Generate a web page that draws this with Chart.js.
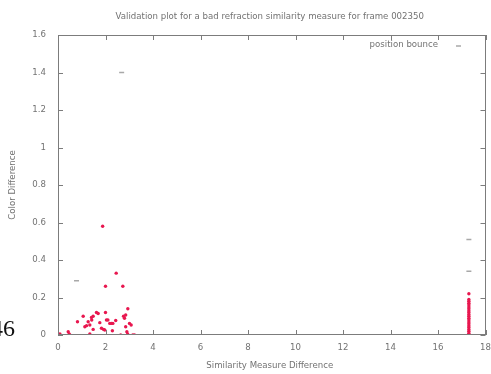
<!DOCTYPE html>
<html>
<head>
<meta charset="utf-8">
<script src="https://cdn.jsdelivr.net/npm/chart.js@4/dist/chart.umd.min.js"></script>
<style>
  html, body { margin: 0; padding: 0; background: #fff; overflow: hidden; }
  #wrap { position: relative; width: 491px; height: 374px; }
  #c { display: block; width: 491px; height: 374px; }
  #pg { position: absolute; left: -9px; top: 316px; font-family: "Liberation Serif", "DejaVu Serif", serif; font-size: 24px; color: #111; line-height: 1; }
</style>
</head>
<body>
<div id="wrap">
  <canvas id="c" width="491" height="374"></canvas>
  <div id="pg">46</div>
</div>
<script>
// Chart texts
const chartTitle = "Validation plot for a bad refraction similarity measure for frame 002350";
const xAxisTitle = "Similarity Measure Difference";
const yAxisTitle = "Color Difference";
const legendLabel = "position bounce";

// Axis ranges and tick steps
const xRange = [0, 18];
const xStep = 2;
const yRange = [0, 1.6];
const yStep = 0.2;

// Red samples (similarity difference, colour difference)
const redX = [0.08, 0.43, 0.47, 0.50, 0.82, 1.06, 1.13, 1.20, 1.27, 1.34, 1.34, 1.41, 1.48, 1.48, 1.42,
              1.62, 1.69, 1.76, 1.83, 1.88, 1.92, 1.97, 2.00, 2.00, 2.04, 2.10, 2.18, 2.25, 2.29, 2.31,
              2.43, 2.45, 2.64, 2.73, 2.76, 2.80, 2.85, 2.85, 2.90, 2.93, 2.94, 3.01, 3.08, 3.15, 3.22,
              17.3, 17.3, 17.3, 17.3, 17.3, 17.3, 17.3, 17.3, 17.3, 17.3, 17.3, 17.3, 17.3, 17.3, 17.3,
              17.3, 17.3, 17.3, 17.3, 17.3, 17.3];
const redY = [0.005, 0.018, 0.005, 0.0, 0.071, 0.10, 0.044, 0.05, 0.071, 0.053, 0.005, 0.094, 0.10, 0.03, 0.08,
              0.12, 0.115, 0.066, 0.036, 0.58, 0.03, 0.027, 0.12, 0.26, 0.08, 0.08, 0.062, 0.062, 0.023, 0.062,
              0.077, 0.33, 0.0, 0.26, 0.10, 0.089, 0.107, 0.044, 0.018, 0.005, 0.14, 0.062, 0.053, 0.0, 0.0,
              0.22, 0.19, 0.18, 0.17, 0.16, 0.15, 0.14, 0.13, 0.12, 0.11, 0.10, 0.09, 0.08, 0.07, 0.06,
              0.05, 0.04, 0.03, 0.02, 0.01, 0.0];

// Grey "position bounce" samples
const greyX = [2.68, 0.78, 17.3, 17.3];
const greyY = [1.40, 0.29, 0.51, 0.34];

const redPoints = redX.map((x, i) => ({ x: x, y: redY[i] }));
const greyPoints = greyX.map((x, i) => ({ x: x, y: greyY[i] }));

const textColor = "#727272";
const frameColor = "#7c7c7c";
const fontFamily = "'DejaVu Sans', Verdana, sans-serif";
const fontSize = 8.6;

// Frame, inward ticks on all four sides, titles and legend
const gnuFrame = {
  id: "gnuFrame",
  afterDatasetsDraw(chart) {
    const ctx = chart.ctx;
    const a = chart.chartArea;
    const xs = chart.scales.x, ys = chart.scales.y;
    const tick = 5;
    ctx.save();
    ctx.strokeStyle = frameColor;
    ctx.lineWidth = 1;
    ctx.strokeRect(Math.round(a.left) + 0.5, Math.round(a.top) + 0.5,
                   Math.round(a.right - a.left) - 1, Math.round(a.bottom - a.top) - 1);
    ctx.beginPath();
    for (let v = xRange[0]; v <= xRange[1] + 1e-9; v += xStep) {
      const px = Math.round(xs.getPixelForValue(v)) + 0.5;
      ctx.moveTo(px, a.bottom); ctx.lineTo(px, a.bottom - tick);
      ctx.moveTo(px, a.top); ctx.lineTo(px, a.top + tick);
    }
    for (let v = yRange[0]; v <= yRange[1] + 1e-9; v += yStep) {
      const py = Math.round(ys.getPixelForValue(v)) + 0.5;
      ctx.moveTo(a.left, py); ctx.lineTo(a.left + tick, py);
      ctx.moveTo(a.right, py); ctx.lineTo(a.right - tick, py);
    }
    ctx.stroke();

    ctx.fillStyle = textColor;
    ctx.font = fontSize + "px " + fontFamily;
    ctx.textBaseline = "middle";
    ctx.textAlign = "center";
    const cx = (a.left + a.right) / 2;
    ctx.fillText(chartTitle, cx - 2, 17);
    ctx.fillText(xAxisTitle, cx - 2, 366);

    ctx.save();
    ctx.translate(13, (a.top + a.bottom) / 2);
    ctx.rotate(-Math.PI / 2);
    ctx.fillText(yAxisTitle, 0, 0);
    ctx.restore();

    // legend: label right-aligned, sample mark to its right
    ctx.textAlign = "right";
    ctx.fillText(legendLabel, 438, 45);
    ctx.strokeStyle = "#a8a8a8";
    ctx.lineWidth = 1.5;
    ctx.beginPath();
    ctx.moveTo(456, 46); ctx.lineTo(461, 46);
    ctx.stroke();
    ctx.restore();
  }
};

new Chart(document.getElementById("c"), {
  type: "scatter",
  data: {
    datasets: [
      {
        label: legendLabel,
        data: greyPoints,
        pointStyle: "line",
        pointRadius: 2.5,
        borderColor: "#a8a8a8",
        borderWidth: 1.5,
        backgroundColor: "#a8a8a8"
      },
      {
        label: "",
        data: redPoints,
        pointStyle: "circle",
        pointRadius: 1.7,
        borderWidth: 0,
        backgroundColor: "#e8174f",
        borderColor: "#e8174f"
      }
    ]
  },
  options: {
    responsive: false,
    animation: false,
    devicePixelRatio: 1,
    layout: { padding: { top: 35, right: 3, left: 0, bottom: 0 } },
    plugins: {
      legend: { display: false },
      title: { display: false },
      tooltip: { enabled: false }
    },
    scales: {
      x: {
        type: "linear",
        min: xRange[0], max: xRange[1],
        afterFit(scale) { scale.height = 39; scale.paddingRight = 0; scale.paddingLeft = 0; },
        grid: { display: false, drawTicks: false },
        border: { display: false },
        ticks: { stepSize: xStep, padding: 8, color: textColor, maxRotation: 0,
                 font: { family: fontFamily, size: fontSize } }
      },
      y: {
        type: "linear",
        min: yRange[0], max: yRange[1],
        afterFit(scale) { scale.width = 58; scale.paddingTop = 0; scale.paddingBottom = 0; },
        grid: { display: false, drawTicks: false },
        border: { display: false },
        ticks: { stepSize: yStep, padding: 12, color: textColor,
                 font: { family: fontFamily, size: fontSize },
                 callback: (v) => String(Number(v.toFixed(1))) }
      }
    }
  },
  plugins: [gnuFrame]
});
</script>
</body>
</html>
